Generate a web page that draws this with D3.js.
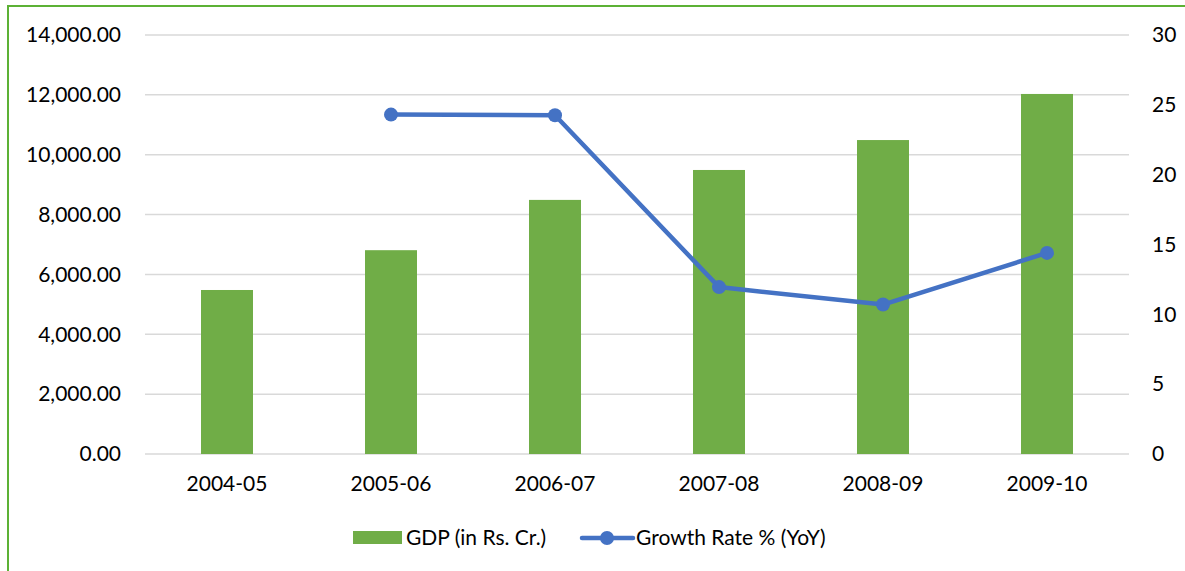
<!DOCTYPE html>
<html>
<head>
<meta charset="utf-8">
<script src="https://cdnjs.cloudflare.com/ajax/libs/d3/7.8.5/d3.min.js"></script>
<style>
  body { margin: 0; background: #fff; }
  svg { display: block; }
  text { font-family: Lato, "Open Sans", sans-serif; fill: #000; }
</style>
</head>
<body>
<main></main>
<script>
// data
const years = ['2004-05', '2005-06', '2006-07', '2007-08', '2008-09', '2009-10']
const gdp = [5480, 6810, 8490, 9490, 10490, 12030]
const growth = [null, 24.3, 24.25, 11.95, 10.7, 14.4]
const leftTicks = [0, 2000, 4000, 6000, 8000, 10000, 12000, 14000]
const rightTicks = [0, 5, 10, 15, 20, 25, 30]
const seriesNames = ['GDP (in Rs. Cr.)', 'Growth Rate % (YoY)']

// sizes
const size = { width: 1185, height: 571 }
const plot = { left: 145, right: 1129, top: 35, bottom: 454 }
const green = '#70ad47'
const blue = '#4472c4'

const svg = d3.select('main')
  .append('svg')
  .attr('width', size.width)
  .attr('height', size.height)

// chart area border (runs off the right and bottom of the picture)
svg.append('rect')
  .attr('x', 8).attr('y', 6)
  .attr('width', 1300).attr('height', 700)
  .attr('fill', 'none')
  .attr('stroke', '#5cb135')
  .attr('stroke-width', 2)

// scales
const xScale = d3.scaleBand()
  .domain(years)
  .range([plot.left, plot.right])
  .padding(0)
const yScale = d3.scaleLinear()
  .domain([0, 14000])
  .range([plot.bottom, plot.top])
const y2Scale = d3.scaleLinear()
  .domain([0, 30])
  .range([plot.bottom, plot.top])

const barWidth = xScale.bandwidth() * 0.317

// gridlines
svg.append('g')
  .selectAll('line')
  .data(leftTicks)
  .enter()
  .append('line')
  .attr('x1', plot.left)
  .attr('x2', plot.right)
  .attr('y1', d => yScale(d))
  .attr('y2', d => yScale(d))
  .attr('stroke', '#d9d9d9')
  .attr('stroke-width', 1.5)

// bars
svg.append('g')
  .selectAll('rect')
  .data(years)
  .enter()
  .append('rect')
  .attr('x', d => xScale(d) + (xScale.bandwidth() - barWidth) / 2)
  .attr('width', barWidth)
  .attr('y', (d, i) => yScale(gdp[i]))
  .attr('height', (d, i) => yScale(0) - yScale(gdp[i]))
  .attr('fill', green)

// growth line
const points = years
  .map((d, i) => ({ year: d, value: growth[i] }))
  .filter(d => d.value !== null)
const line = d3.line()
  .x(d => xScale(d.year) + xScale.bandwidth() / 2)
  .y(d => y2Scale(d.value))

svg.append('path')
  .datum(points)
  .attr('d', line)
  .attr('fill', 'none')
  .attr('stroke', blue)
  .attr('stroke-width', 4.5)
  .attr('stroke-linejoin', 'round')

svg.append('g')
  .selectAll('circle')
  .data(points)
  .enter()
  .append('circle')
  .attr('cx', d => xScale(d.year) + xScale.bandwidth() / 2)
  .attr('cy', d => y2Scale(d.value))
  .attr('r', 7)
  .attr('fill', blue)

// axes
const fontSize = '21px'
const leftAxis = d3.axisLeft(yScale)
  .tickValues(leftTicks)
  .tickFormat(d3.format(',.2f'))
  .tickSize(0)
  .tickPadding(24)
svg.append('g')
  .attr('transform', `translate(${plot.left},0)`)
  .call(leftAxis)
  .call(g => g.select('.domain').remove())
  .selectAll('text')
  .style('font-size', fontSize)
  .style('font-family', 'Lato')

const rightAxis = d3.axisRight(y2Scale)
  .tickValues(rightTicks)
  .tickSize(0)
  .tickPadding(23)
svg.append('g')
  .attr('transform', `translate(${plot.right},0)`)
  .call(rightAxis)
  .call(g => g.select('.domain').remove())
  .selectAll('text')
  .style('font-size', fontSize)
  .style('font-family', 'Lato')

const xAxis = d3.axisBottom(xScale)
  .tickSize(0)
  .tickPadding(22)
svg.append('g')
  .attr('transform', `translate(0,${plot.bottom})`)
  .call(xAxis)
  .call(g => g.select('.domain').remove())
  .selectAll('text')
  .style('font-size', fontSize)
  .style('font-family', 'Lato')

// legend
const legend = svg.append('g')
legend.append('rect')
  .attr('x', 353).attr('y', 531)
  .attr('width', 49).attr('height', 13)
  .attr('fill', green)
legend.append('text')
  .attr('x', 406).attr('y', 538)
  .attr('dy', '0.35em')
  .style('font-size', fontSize)
  .text(seriesNames[0])
legend.append('line')
  .attr('x1', 582).attr('x2', 633)
  .attr('y1', 538).attr('y2', 538)
  .attr('stroke', blue)
  .attr('stroke-width', 4.5)
  .attr('stroke-linecap', 'round')
legend.append('circle')
  .attr('cx', 607).attr('cy', 538)
  .attr('r', 7)
  .attr('fill', blue)
legend.append('text')
  .attr('x', 636).attr('y', 538)
  .attr('dy', '0.35em')
  .style('font-size', fontSize)
  .text(seriesNames[1])
</script>
</body>
</html>
